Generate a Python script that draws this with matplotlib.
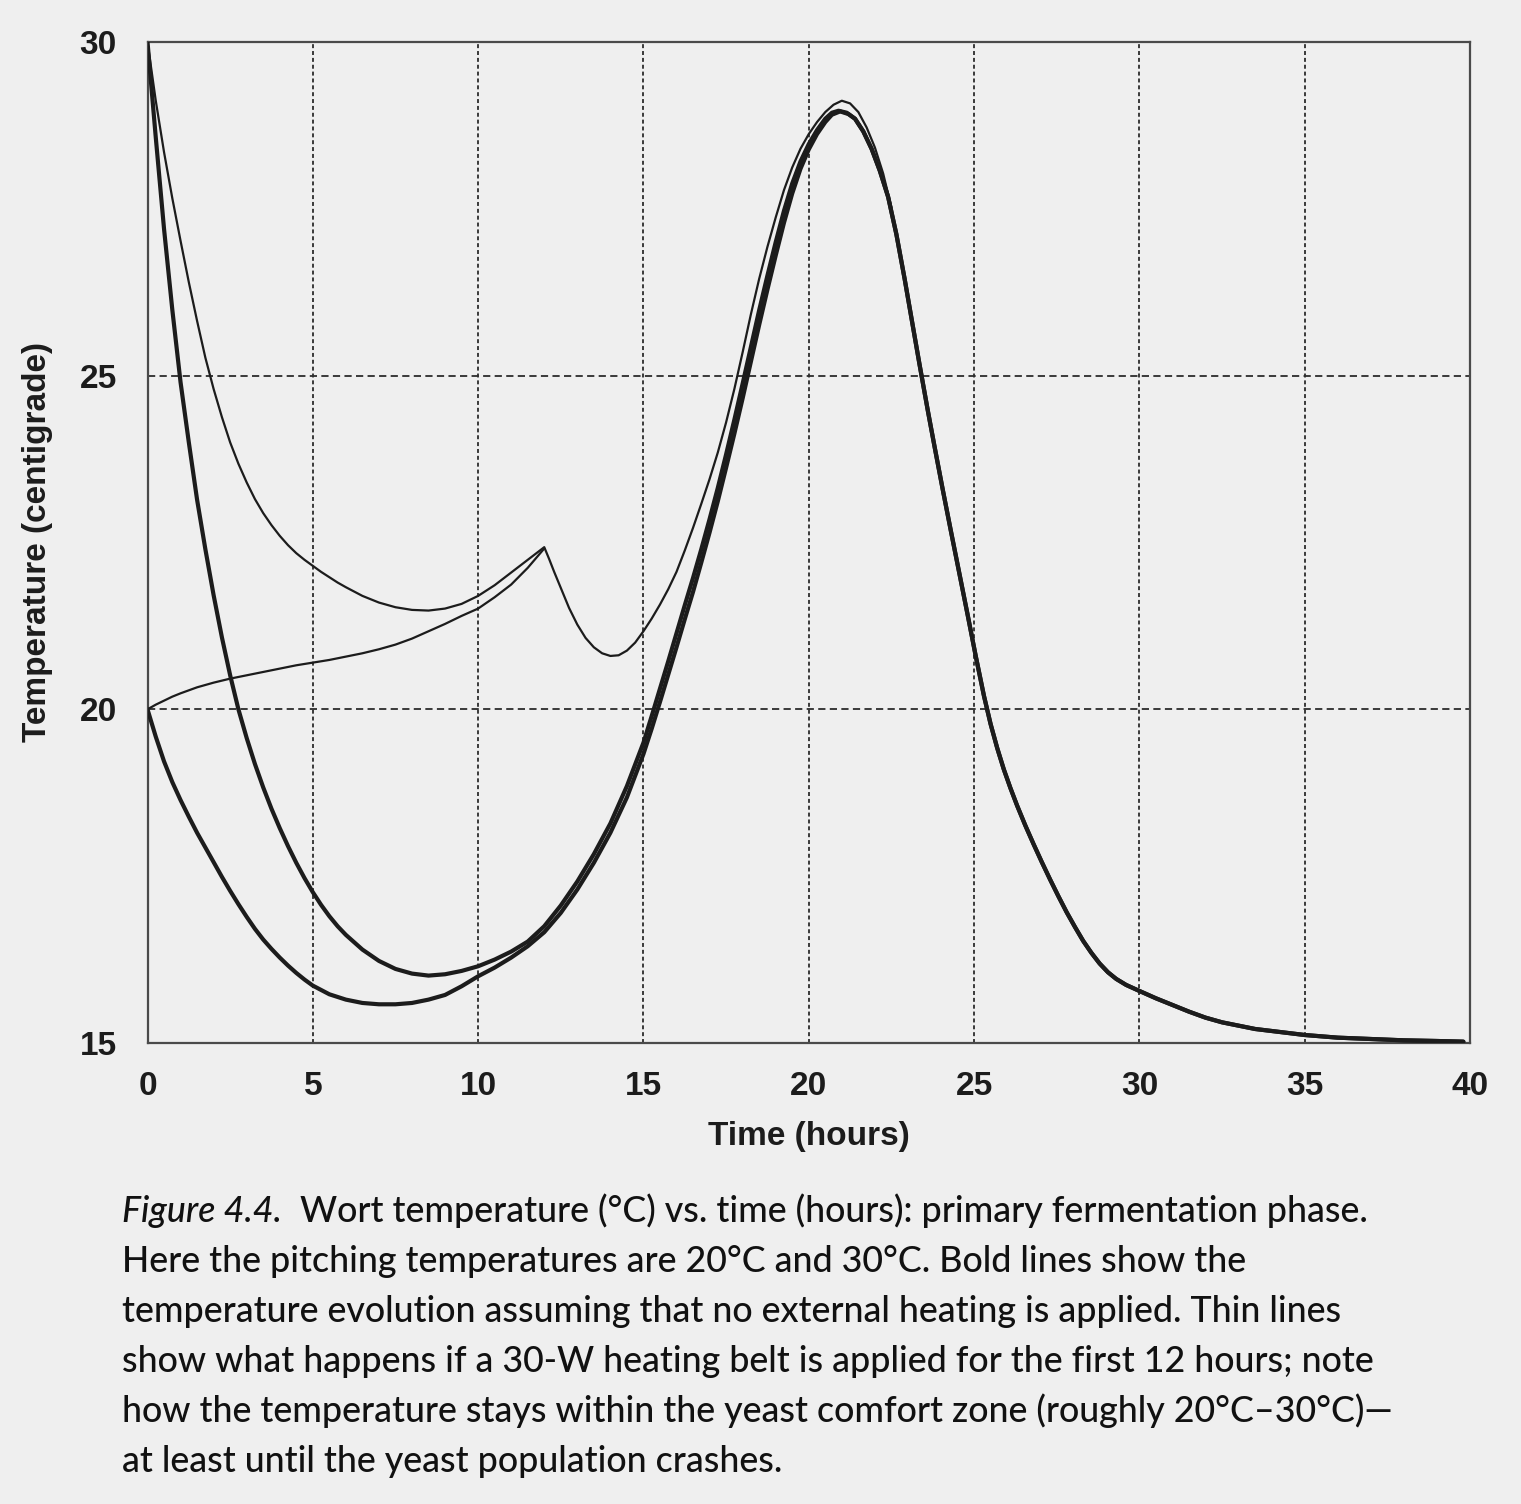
import matplotlib
matplotlib.use("Agg")
import matplotlib.pyplot as plt

# ---------------- data ----------------
# Bold: no heating, pitched at 30 C
t_bold30 = [0, 0.25, 0.5, 0.75, 1.0, 1.25, 1.5, 1.75, 2.0, 2.25, 2.5, 2.75, 3.0, 3.25,
            3.5, 3.75, 4.0, 4.25, 4.5, 4.75, 5.0, 5.25, 5.5, 5.75, 6.0, 6.5, 7.0, 7.5,
            8.0, 8.5, 9.0, 9.5, 10.0, 10.5, 11.0, 11.5, 12.0, 12.5, 13.0, 13.5, 14.0,
            14.5, 15.0, 15.25, 15.5, 15.75, 16.0, 16.25, 16.5, 16.75, 17.0, 17.25,
            17.5, 17.75, 18.0, 18.25, 18.5, 18.75, 19.0, 19.25, 19.5, 19.75, 20.0,
            20.25, 20.5, 20.7, 20.9, 21.15, 21.4, 21.65, 21.9, 22.15, 22.4, 22.65,
            22.9, 23.1, 23.35, 23.6, 23.8, 24.05, 24.3, 24.55, 24.8, 25.05, 25.3, 25.5,
            25.7, 25.9, 26.1, 26.3, 26.55, 26.8, 27.05, 27.3, 27.55, 27.8, 28.05, 28.3,
            28.55, 28.8, 29.05, 29.3, 29.6, 30.0, 30.5, 31.0, 31.5, 32.0, 32.5, 33.0,
            33.5, 34.0, 35.0, 36.0, 37.0, 38.0, 39.0, 39.8]
T_bold30 = [30.0, 28.57, 27.2, 25.99, 24.9, 24.0, 23.14, 22.4, 21.71, 21.08, 20.51, 20.0,
            19.57, 19.18, 18.83, 18.51, 18.22, 17.95, 17.7, 17.47, 17.26, 17.07, 16.9,
            16.75, 16.62, 16.4, 16.23, 16.11, 16.04, 16.01, 16.03, 16.08, 16.15, 16.25,
            16.37, 16.52, 16.75, 17.06, 17.42, 17.83, 18.29, 18.85, 19.5, 19.9, 20.31,
            20.72, 21.14, 21.56, 21.97, 22.4, 22.85, 23.32, 23.82, 24.34, 24.88, 25.43,
            25.98, 26.5, 27.0, 27.47, 27.88, 28.21, 28.47, 28.68, 28.85, 28.94, 28.97,
            28.94, 28.85, 28.66, 28.4, 28.07, 27.68, 27.12, 26.45, 25.88, 25.17, 24.48,
            23.95, 23.3, 22.67, 22.05, 21.43, 20.8, 20.2, 19.78, 19.42, 19.1, 18.82,
            18.56, 18.26, 17.98, 17.71, 17.45, 17.2, 16.96, 16.74, 16.53, 16.35, 16.19,
            16.06, 15.96, 15.87, 15.78, 15.67, 15.57, 15.47, 15.38, 15.31, 15.26, 15.21,
            15.18, 15.12, 15.08, 15.06, 15.04, 15.03, 15.02]

# Bold: no heating, pitched at 20 C
t_bold20 = [0, 0.25, 0.5, 0.75, 1.0, 1.25, 1.5, 1.75, 2.0, 2.25, 2.5, 2.75, 3.0, 3.25,
            3.5, 3.75, 4.0, 4.25, 4.5, 4.75, 5.0, 5.5, 6.0, 6.5, 7.0, 7.5, 8.0, 8.5,
            9.0, 9.5, 10.0, 10.5, 11.0, 11.5, 12.0, 12.5, 13.0, 13.5, 14.0, 14.5, 15.0,
            15.25, 15.5, 15.75, 16.0, 16.25, 16.5, 16.75, 17.0, 17.25, 17.5, 17.75,
            18.0, 18.25, 18.5, 18.75, 19.0, 19.25, 19.5, 19.75, 20.0, 20.25, 20.5,
            20.7, 20.95, 21.2, 21.4, 21.65, 21.9, 22.15, 22.4, 22.65, 22.9, 23.1,
            23.35, 23.6, 23.8, 24.05, 24.3, 24.55, 24.8, 25.05, 25.3, 25.5, 25.7, 25.9,
            26.1, 26.3, 26.55, 26.8, 27.05, 27.3, 27.55, 27.8, 28.05, 28.3, 28.55,
            28.8, 29.05, 29.3, 29.6, 30.0, 30.5, 31.0, 31.5, 32.0, 32.5, 33.0, 33.5,
            34.0, 35.0, 36.0, 37.0, 38.0, 39.0, 39.8]
T_bold20 = [20.0, 19.59, 19.22, 18.91, 18.64, 18.39, 18.15, 17.93, 17.71, 17.49, 17.28,
            17.08, 16.89, 16.71, 16.55, 16.41, 16.28, 16.16, 16.05, 15.95, 15.86, 15.73,
            15.65, 15.6, 15.58, 15.58, 15.6, 15.65, 15.72, 15.85, 16.0, 16.13, 16.28,
            16.45, 16.66, 16.95, 17.3, 17.7, 18.15, 18.68, 19.33, 19.71, 20.11, 20.52,
            20.93, 21.35, 21.76, 22.2, 22.65, 23.12, 23.62, 24.13, 24.66, 25.21, 25.76,
            26.29, 26.8, 27.29, 27.73, 28.1, 28.39, 28.62, 28.8, 28.91, 28.96, 28.92,
            28.85, 28.66, 28.4, 28.07, 27.68, 27.12, 26.45, 25.88, 25.17, 24.48, 23.95,
            23.3, 22.67, 22.05, 21.43, 20.8, 20.2, 19.78, 19.42, 19.1, 18.82, 18.56,
            18.26, 17.98, 17.71, 17.45, 17.2, 16.96, 16.74, 16.53, 16.35, 16.19, 16.06,
            15.96, 15.87, 15.78, 15.67, 15.57, 15.47, 15.38, 15.31, 15.26, 15.21, 15.18,
            15.12, 15.08, 15.06, 15.04, 15.03, 15.02]

# Thin: 30-W heating belt for the first 12 hours, pitched at 30 C
t_thin30 = [0, 0.25, 0.5, 0.75, 1.0, 1.25, 1.5, 1.75, 2.0, 2.25, 2.5, 2.75, 3.0, 3.25,
            3.5, 3.75, 4.0, 4.25, 4.5, 4.75, 5.0, 5.25, 5.5, 5.75, 6.0, 6.5, 7.0, 7.5,
            8.0, 8.5, 9.0, 9.5, 10.0, 10.5, 11.0, 11.5, 12.0, 12.15, 12.3, 12.5, 12.75,
            13.0, 13.25, 13.5, 13.75, 14.0, 14.25, 14.5, 14.75, 15.0, 15.25, 15.5,
            15.75, 16.0, 16.25, 16.5, 16.75, 17.0, 17.25, 17.5, 17.75, 18.0, 18.25,
            18.5, 18.75, 19.0, 19.25, 19.5, 19.75, 20.0, 20.25, 20.5, 20.75, 21.0,
            21.25, 21.5, 21.75, 22.0, 22.25, 22.5]
T_thin30 = [30.0, 29.12, 28.35, 27.66, 27.02, 26.4, 25.82, 25.27, 24.8, 24.38, 24.0,
            23.68, 23.4, 23.15, 22.94, 22.76, 22.6, 22.46, 22.34, 22.24, 22.15, 22.06,
            21.98, 21.9, 21.83, 21.7, 21.6, 21.53, 21.49, 21.48, 21.51, 21.58, 21.7,
            21.86, 22.05, 22.24, 22.43, 22.25, 22.06, 21.82, 21.52, 21.27, 21.07, 20.93,
            20.84, 20.8, 20.81, 20.88, 21.0, 21.17, 21.36, 21.57, 21.8, 22.06, 22.38,
            22.72, 23.08, 23.45, 23.85, 24.3, 24.8, 25.35, 25.92, 26.45, 26.93, 27.37,
            27.78, 28.12, 28.4, 28.62, 28.8, 28.95, 29.06, 29.12, 29.08, 28.95, 28.72,
            28.42, 28.03, 27.52]

# Thin: 30-W heating belt for the first 12 hours, pitched at 20 C
t_thin20 = [0, 0.25, 0.5, 0.75, 1.0, 1.5, 2.0, 2.5, 3.0, 3.5, 4.0, 4.5, 5.0, 5.5, 6.0,
            6.5, 7.0, 7.5, 8.0, 8.5, 9.0, 9.5, 10.0, 10.5, 11.0, 11.5, 12.0]
T_thin20 = [20.0, 20.07, 20.13, 20.19, 20.24, 20.33, 20.4, 20.46, 20.51, 20.56, 20.61,
            20.66, 20.7, 20.74, 20.79, 20.84, 20.9, 20.97, 21.06, 21.17, 21.28, 21.4,
            21.51, 21.68, 21.87, 22.12, 22.41]

xticks = [0, 5, 10, 15, 20, 25, 30, 35, 40]
yticks = [15, 20, 25, 30]
xtick_labels = ["0", "5", "10", "15", "20", "25", "30", "35", "40"]
ytick_labels = ["15", "20", "25", "30"]
xlabel = "Time (hours)"
ylabel = "Temperature (centigrade)"

caption_lead = "Figure 4.4."
caption_lines = [
    "Wort temperature (\u00b0C) vs. time (hours): primary fermentation phase.",
    "Here the pitching temperatures are 20\u00b0C and 30\u00b0C. Bold lines show the",
    "temperature evolution assuming that no external heating is applied. Thin lines",
    "show what happens if a 30-W heating belt is applied for the first 12 hours; note",
    "how the temperature stays within the yeast comfort zone (roughly 20\u00b0C\u201330\u00b0C)\u2014",
    "at least until the yeast population crashes.",
]

# ---------------- figure ----------------
W, H = 1521, 1504
BG = "#efefef"
INK = "#1c1c1c"
fig = plt.figure(figsize=(W / 100, H / 100), dpi=100)
fig.patch.set_facecolor(BG)

L, R, T, B = 147.5, 1470, 42, 1043
ax = fig.add_axes([L / W, 1 - B / H, (R - L) / W, (B - T) / H])
ax.set_facecolor(BG)
ax.set_xlim(0, 40)
ax.set_ylim(15, 30)

axis_font = dict(family=["Liberation Sans", "DejaVu Sans"], weight="bold", size=24)

ax.set_xticks(xticks)
ax.set_xticklabels(xtick_labels, **axis_font)
ax.set_yticks(yticks)
ax.set_yticklabels(ytick_labels, **axis_font)
ax.tick_params(axis="both", length=0, colors=INK)
ax.tick_params(axis="x", pad=20)
ax.tick_params(axis="y", pad=22)

for s in ax.spines.values():
    s.set_color("#4a4a4a")
    s.set_linewidth(1.6)

# grid (only interior lines)
for x in xticks[1:-1]:
    ax.axvline(x, color="#2c2c2c", lw=1.3, ls=(0, (2.2, 1.6)), zorder=1)
for y in yticks[1:-1]:
    ax.axhline(y, color="#2c2c2c", lw=1.3, ls=(0, (4.0, 2.4)), zorder=1)

# curves
kw = dict(color=INK, solid_joinstyle="round", solid_capstyle="round")
ax.plot(t_thin20, T_thin20, lw=1.6, zorder=3, **kw)
ax.plot(t_thin30, T_thin30, lw=1.6, zorder=3, **kw)
ax.plot(t_bold20, T_bold20, lw=3.0, zorder=4, **kw)
ax.plot(t_bold30, T_bold30, lw=3.0, zorder=4, **kw)

ax.set_xlabel(xlabel, **axis_font, color=INK)
ax.xaxis.set_label_coords(0.5, (B - 1137) / (B - T))
ax.xaxis.label.set_va("center")
ax.set_ylabel(ylabel, **axis_font, color=INK)
ax.yaxis.set_label_coords((38 - L) / (R - L), 0.5)
ax.yaxis.label.set_va("center")

# ---------------- caption ----------------
cap_family = ["Lato", "DejaVu Sans"]
fig.canvas.draw()
rend = fig.canvas.get_renderer()

# fit the caption font size to the widths of the printed lines
targets = {1: 1232 - 122, 2: 1347 - 122, 3: 1354 - 122, 4: 1395 - 122}
ratios = []
for i, tw in targets.items():
    probe = fig.text(0, 0, caption_lines[i], family=cap_family, size=24, weight=500)
    ratios.append(tw / probe.get_window_extent(rend).width)
    probe.remove()
cap_size = 24 * sum(ratios) / len(ratios) * 1.008

x0 = 122 / W
line_y = [1212, 1262, 1312, 1362, 1412, 1462]
for i, (txt, yc) in enumerate(zip(caption_lines, line_y)):
    yb = 1 - (yc + 10) / H
    if i == 0:
        lead = fig.text(x0, yb, caption_lead, family=cap_family, style="italic",
                        size=cap_size, weight=500, color="#111111", va="baseline",
                        ha="left")
        lw_ = lead.get_window_extent(rend).width
        fig.text((122 + lw_ + 18) / W, yb, txt, family=cap_family, size=cap_size,
                 weight=500, color="#111111", va="baseline", ha="left")
    else:
        fig.text(x0, yb, txt, family=cap_family, size=cap_size, weight=500,
                 color="#111111", va="baseline", ha="left")

fig.savefig("out.png", dpi=100, facecolor=BG)
